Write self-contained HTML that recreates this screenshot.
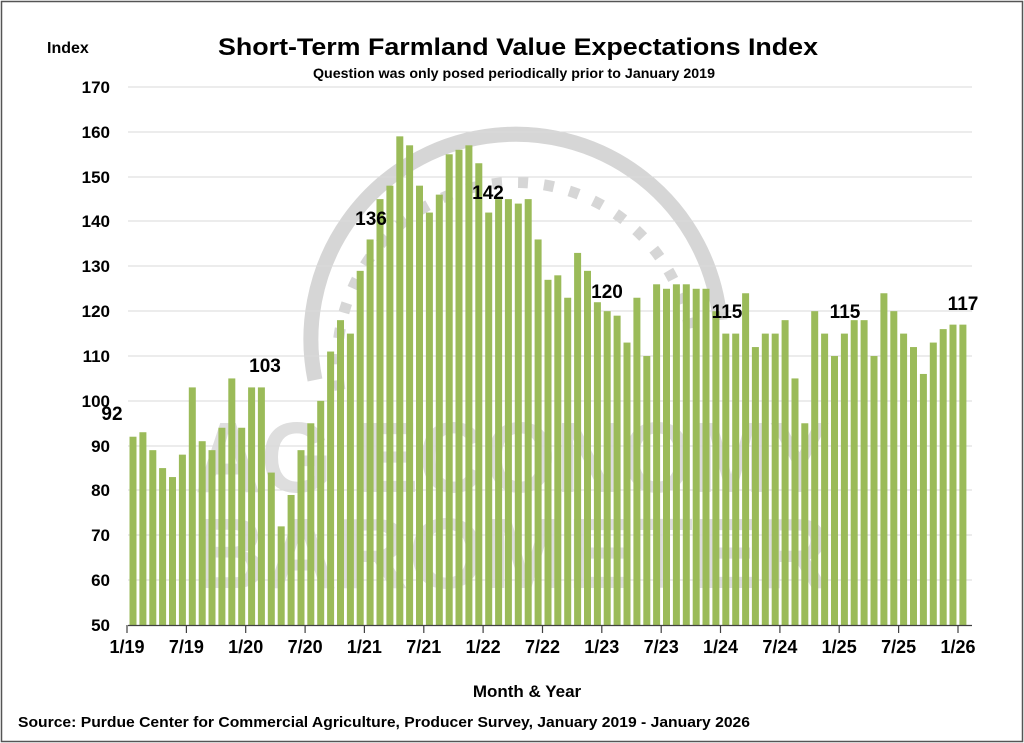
<!DOCTYPE html>
<html><head><meta charset="utf-8"><style>
html,body{margin:0;padding:0;background:#fff}
svg{display:block;font-family:"Liberation Sans",Arial,sans-serif}
</style></head><body>
<svg width="1024" height="743" viewBox="0 0 1024 743" xmlns="http://www.w3.org/2000/svg">
<rect x="1.5" y="1.5" width="1021" height="740" fill="#fff" stroke="#555" stroke-width="1.5"/>
<!-- watermark -->
<g>
<path d="M 315 380 A 205 205 0 1 1 720 320" fill="none" stroke="#d6d6d6" stroke-width="15"/>
<path d="M 340 390 A 175 175 0 0 1 690 330" fill="none" stroke="#d6d6d6" stroke-width="11" stroke-dasharray="10 16"/>
<text x="195" y="492" textLength="635" lengthAdjust="spacingAndGlyphs" font-size="100" font-weight="bold" fill="#dedede">AG ECONOMY</text>
<text x="195" y="588" textLength="635" lengthAdjust="spacingAndGlyphs" font-size="100" font-weight="bold" fill="#dedede">BAROMETER</text>
</g>
<!-- grid -->
<g stroke="#d9d9d9" stroke-width="1">
<line x1="128" x2="972" y1="87" y2="87"/><line x1="128" x2="972" y1="132" y2="132"/>
<line x1="128" x2="972" y1="177" y2="177"/><line x1="128" x2="972" y1="221" y2="221"/>
<line x1="128" x2="972" y1="266" y2="266"/><line x1="128" x2="972" y1="311" y2="311"/>
<line x1="128" x2="972" y1="356" y2="356"/><line x1="128" x2="972" y1="401" y2="401"/>
<line x1="128" x2="972" y1="446" y2="446"/><line x1="128" x2="972" y1="490" y2="490"/>
<line x1="128" x2="972" y1="535" y2="535"/><line x1="128" x2="972" y1="580" y2="580"/>
</g>
<g font-size="17" font-weight="bold" fill="#000" text-anchor="end">
<text x="110" y="93">170</text><text x="110" y="138">160</text><text x="110" y="183">150</text>
<text x="110" y="227">140</text><text x="110" y="272">130</text><text x="110" y="317">120</text>
<text x="110" y="362">110</text><text x="110" y="407">100</text><text x="110" y="452">90</text>
<text x="110" y="496">80</text><text x="110" y="541">70</text><text x="110" y="586">60</text>
<text x="110" y="631">50</text>
</g>
<g transform="translate(129.5,625) scale(1,-4.483)" fill="#9bbb59">
<rect x="0" width="7" height="42"/><rect x="9.9" width="7" height="43"/><rect x="19.8" width="7" height="39"/><rect x="29.6" width="7" height="35"/><rect x="39.5" width="7" height="33"/><rect x="49.4" width="7" height="38"/><rect x="59.3" width="7" height="53"/><rect x="69.2" width="7" height="41"/><rect x="79" width="7" height="39"/><rect x="88.9" width="7" height="44"/><rect x="98.8" width="7" height="55"/><rect x="108.7" width="7" height="44"/>
<rect x="118.6" width="7" height="53"/><rect x="128.4" width="7" height="53"/><rect x="138.3" width="7" height="34"/><rect x="148.2" width="7" height="22"/><rect x="158.1" width="7" height="29"/><rect x="168" width="7" height="39"/><rect x="177.8" width="7" height="45"/><rect x="187.7" width="7" height="50"/><rect x="197.6" width="7" height="61"/><rect x="207.5" width="7" height="68"/><rect x="217.4" width="7" height="65"/><rect x="227.2" width="7" height="79"/>
<rect x="237.1" width="7" height="86"/><rect x="247" width="7" height="95"/><rect x="256.9" width="7" height="98"/><rect x="266.8" width="7" height="109"/><rect x="276.6" width="7" height="107"/><rect x="286.5" width="7" height="98"/><rect x="296.4" width="7" height="92"/><rect x="306.3" width="7" height="96"/><rect x="316.2" width="7" height="105"/><rect x="326" width="7" height="106"/><rect x="335.9" width="7" height="107"/><rect x="345.8" width="7" height="103"/>
<rect x="355.7" width="7" height="92"/><rect x="365.6" width="7" height="95"/><rect x="375.4" width="7" height="95"/><rect x="385.3" width="7" height="94"/><rect x="395.2" width="7" height="95"/><rect x="405.1" width="7" height="86"/><rect x="415" width="7" height="77"/><rect x="424.8" width="7" height="78"/><rect x="434.7" width="7" height="73"/><rect x="444.6" width="7" height="83"/><rect x="454.5" width="7" height="79"/><rect x="464.4" width="7" height="72"/>
<rect x="474.2" width="7" height="70"/><rect x="484.1" width="7" height="69"/><rect x="494" width="7" height="63"/><rect x="503.9" width="7" height="73"/><rect x="513.8" width="7" height="60"/><rect x="523.6" width="7" height="76"/><rect x="533.5" width="7" height="75"/><rect x="543.4" width="7" height="76"/><rect x="553.3" width="7" height="76"/><rect x="563.2" width="7" height="75"/><rect x="573" width="7" height="75"/><rect x="582.9" width="7" height="70"/>
<rect x="592.8" width="7" height="65"/><rect x="602.7" width="7" height="65"/><rect x="612.6" width="7" height="74"/><rect x="622.4" width="7" height="62"/><rect x="632.3" width="7" height="65"/><rect x="642.2" width="7" height="65"/><rect x="652.1" width="7" height="68"/><rect x="662" width="7" height="55"/><rect x="671.8" width="7" height="45"/><rect x="681.7" width="7" height="70"/><rect x="691.6" width="7" height="65"/><rect x="701.5" width="7" height="60"/>
<rect x="711.4" width="7" height="65"/><rect x="721.2" width="7" height="68"/><rect x="731.1" width="7" height="68"/><rect x="741" width="7" height="60"/><rect x="750.9" width="7" height="74"/><rect x="760.8" width="7" height="70"/><rect x="770.6" width="7" height="65"/><rect x="780.5" width="7" height="62"/><rect x="790.4" width="7" height="56"/><rect x="800.3" width="7" height="63"/><rect x="810.2" width="7" height="66"/><rect x="820" width="7" height="67"/>
<rect x="829.9" width="7" height="67"/>
</g>
<!-- axis -->
<line x1="128" x2="972" y1="625.5" y2="625.5" stroke="#404040" stroke-width="1.2"/>
<g stroke="#404040" stroke-width="1.2">
<line x1="127" x2="127" y1="625" y2="633"/><line x1="186.4" x2="186.4" y1="625" y2="633"/><line x1="245.7" x2="245.7" y1="625" y2="633"/><line x1="305.1" x2="305.1" y1="625" y2="633"/><line x1="364.4" x2="364.4" y1="625" y2="633"/><line x1="423.8" x2="423.8" y1="625" y2="633"/><line x1="483.1" x2="483.1" y1="625" y2="633"/><line x1="542.5" x2="542.5" y1="625" y2="633"/><line x1="601.8" x2="601.8" y1="625" y2="633"/><line x1="661.2" x2="661.2" y1="625" y2="633"/><line x1="720.5" x2="720.5" y1="625" y2="633"/><line x1="779.9" x2="779.9" y1="625" y2="633"/><line x1="839.2" x2="839.2" y1="625" y2="633"/><line x1="898.6" x2="898.6" y1="625" y2="633"/><line x1="958" x2="958" y1="625" y2="633"/>
</g>
<g font-size="18" font-weight="bold" fill="#000" text-anchor="middle">
<text x="127" y="653">1/19</text><text x="186.4" y="653">7/19</text><text x="245.7" y="653">1/20</text><text x="305.1" y="653">7/20</text><text x="364.4" y="653">1/21</text><text x="423.8" y="653">7/21</text><text x="483.1" y="653">1/22</text><text x="542.5" y="653">7/22</text><text x="601.8" y="653">1/23</text><text x="661.2" y="653">7/23</text><text x="720.5" y="653">1/24</text><text x="779.9" y="653">7/24</text><text x="839.2" y="653">1/25</text><text x="898.6" y="653">7/25</text><text x="958" y="653">1/26</text>
</g>
<!-- data labels -->
<g font-size="19" font-weight="bold" fill="#000" text-anchor="middle">
<text x="112" y="420">92</text><text x="265" y="372">103</text><text x="371" y="225">136</text>
<text x="488" y="199">142</text><text x="607" y="298">120</text><text x="727" y="318">115</text>
<text x="845" y="318">115</text><text x="963" y="310">117</text>
</g>
<!-- titles -->
<text x="47" y="53" font-size="16" font-weight="bold">Index</text>
<text x="218" y="55" font-size="24" font-weight="bold" textLength="600" lengthAdjust="spacingAndGlyphs">Short-Term Farmland Value Expectations Index</text>
<text x="313" y="78" font-size="14" font-weight="bold" textLength="402" lengthAdjust="spacingAndGlyphs">Question was only posed periodically prior to January 2019</text>
<text x="527" y="697" font-size="17" font-weight="bold" text-anchor="middle">Month &amp; Year</text>
<text x="18" y="727" font-size="15" font-weight="bold" textLength="732" lengthAdjust="spacingAndGlyphs">Source: Purdue Center for Commercial Agriculture, Producer Survey, January 2019 - January 2026</text>
</svg>
</body></html>
